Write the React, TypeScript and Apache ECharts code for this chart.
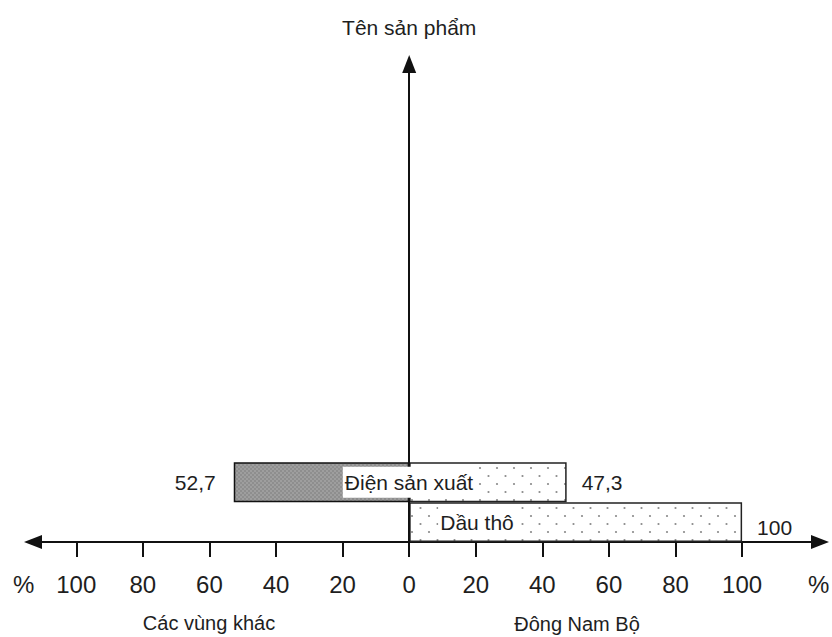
import React, { useEffect, useRef } from 'react';
import * as echarts from 'echarts';

// ---- data ----
const categories = ['Dầu thô', 'Điện sản xuất'];
const otherRegions = [0, 52.7]; // Các vùng khác (%)
const southeast = [100, 47.3]; // Đông Nam Bộ (%)
const tickValues = [-100, -80, -60, -40, -20, 0, 20, 40, 60, 80, 100];
const leftName = 'Các vùng khác';
const rightName = 'Đông Nam Bộ';
const categoryAxisName = 'Tên sản phẩm';
const percentSign = '%';

const FONT = "'Liberation Sans', Arial, Helvetica, sans-serif";
const TEXT = '#1e1e1e';
const fmt = (v: number) => String(Math.abs(v)).replace('.', ',');

function makePattern(w: number, h: number, bg: string, dot: string, dots: number[][], r: number) {
  const c = document.createElement('canvas');
  c.width = w;
  c.height = h;
  const ctx = c.getContext('2d')!;
  ctx.fillStyle = bg;
  ctx.fillRect(0, 0, w, h);
  ctx.fillStyle = dot;
  dots.forEach(([x, y]) => {
    ctx.beginPath();
    ctx.arc(x, y, r, 0, Math.PI * 2);
    ctx.fill();
  });
  return { image: c, repeat: 'repeat' };
}

export default function App() {
  const ref = useRef<HTMLDivElement>(null);

  useEffect(() => {
    if (!ref.current) return;
    const chart = echarts.init(ref.current, undefined, { renderer: 'svg' });

    const darkPattern = makePattern(4, 4, '#8e8e8e', '#b4b4b4', [[1, 1], [3, 3]], 0.8);
    const lightPattern = makePattern(17, 16, '#ffffff', '#8a8a8a', [[4, 4], [12.5, 12]], 1.1);

    const option: any = {
      animation: false,
      backgroundColor: '#ffffff',
      textStyle: { fontFamily: FONT },
      grid: { left: 33, right: 12, top: 64, bottom: 95, containLabel: false, outerBoundsMode: 'none' },
      xAxis: {
        type: 'value',
        min: -113,
        max: 123.4,
        splitLine: { show: false },
        axisLine: {
          show: true,
          symbol: ['triangle', 'triangle'],
          symbolSize: [14, 18],
          lineStyle: { color: '#111', width: 2 },
        },
        axisTick: {
          show: true,
          length: 15,
          customValues: tickValues,
          lineStyle: { color: '#111', width: 2 },
        },
        axisLabel: {
          show: true,
          customValues: tickValues,
          margin: 30,
          fontSize: 24,
          color: TEXT,
          fontFamily: FONT,
          formatter: (v: number) => fmt(v),
        },
      },
      yAxis: {
        type: 'category',
        data: categories,
        max: 11,
        z: 3,
        name: categoryAxisName,
        nameLocation: 'end',
        nameGap: 26,
        nameTextStyle: { fontSize: 21, color: TEXT, fontFamily: FONT },
        axisLine: {
          show: true,
          onZero: true,
          symbol: ['none', 'triangle'],
          symbolSize: [14, 18],
          lineStyle: { color: '#111', width: 2 },
        },
        axisTick: { show: false },
        splitLine: { show: false },
        axisLabel: {
          show: true,
          inside: true,
          interval: 0,
          align: 'center',
          margin: 376,
          fontSize: 21,
          color: TEXT,
          fontFamily: FONT,
          formatter: (v: string) => {
            if (v === categories[0]) return `{s| }{t|${v}}`;
            if (v === categories[1]) return `{t|${v}}`;
            return '';
          },
          rich: {
            s: { width: 136, fontSize: 21 },
            t: { backgroundColor: '#ffffff', padding: [5, 2, 5, 2], fontSize: 21, color: TEXT, fontFamily: FONT },
          },
        },
      },
      series: [
        {
          name: leftName,
          type: 'bar',
          stack: 'share',
          barCategoryGap: 0,
          data: otherRegions.map((v) => (v > 0 ? -v : '-')),
          itemStyle: { color: darkPattern, borderColor: '#111', borderWidth: 1.5 },
          label: {
            show: true,
            position: 'left',
            distance: 18,
            fontSize: 21,
            color: TEXT,
            fontFamily: FONT,
            formatter: (p: any) => fmt(p.value),
          },
        },
        {
          name: rightName,
          type: 'bar',
          stack: 'share',
          barCategoryGap: 0,
          data: southeast.map((v, i) => ({ value: v, label: { offset: i === 0 ? [0, 5] : [0, 0] } })),
          itemStyle: { color: lightPattern, borderColor: '#222', borderWidth: 1.5 },
          label: {
            show: true,
            position: 'right',
            distance: 15,
            fontSize: 21,
            color: TEXT,
            fontFamily: FONT,
            formatter: (p: any) => fmt(p.value),
          },
        },
      ],
      graphic: [
        {
          type: 'text',
          left: 13,
          top: 572,
          style: { text: percentSign, fontSize: 24, fill: TEXT, fontFamily: FONT },
        },
        {
          type: 'text',
          left: 808,
          top: 572,
          style: { text: percentSign, fontSize: 24, fill: TEXT, fontFamily: FONT },
        },
        {
          type: 'text',
          x: 209,
          y: 623,
          style: { text: leftName, fontSize: 20, fill: TEXT, fontFamily: FONT, align: 'center', verticalAlign: 'middle' },
        },
        {
          type: 'text',
          x: 577,
          y: 624,
          style: { text: rightName, fontSize: 20, fill: TEXT, fontFamily: FONT, align: 'center', verticalAlign: 'middle' },
        },
      ],
    };

    chart.setOption(option);
    return () => chart.dispose();
  }, []);

  return (
    <div
      ref={ref}
      style={{ position: 'fixed', left: 0, top: 0, width: 832, height: 637, background: '#fff' }}
    />
  );
}
